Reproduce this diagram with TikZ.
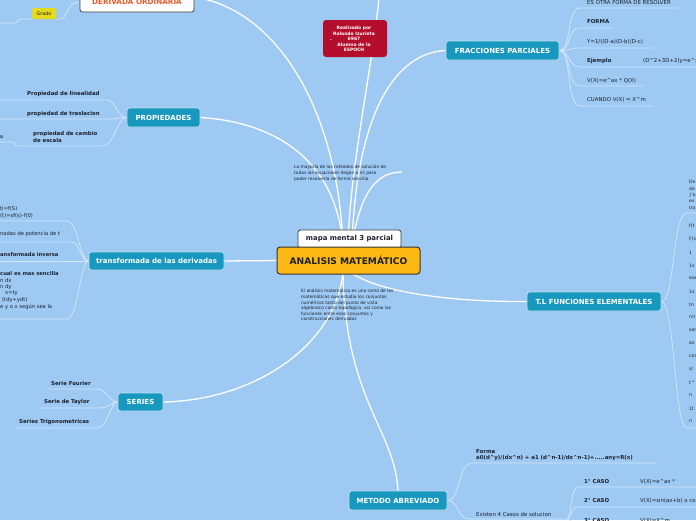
\documentclass[tikz,border=0pt]{standalone}
\usepackage{fontspec}
\setmainfont{DejaVu Sans}
\usetikzlibrary{backgrounds}
\definecolor{bgc}{RGB}{157,201,243}
\definecolor{tealbox}{RGB}{24,152,190}
\definecolor{orangebox}{RGB}{253,184,19}
\definecolor{redbox}{RGB}{180,14,44}
\definecolor{ylwbox}{RGB}{228,218,30}
\definecolor{txtc}{RGB}{28,34,46}
\definecolor{ulc}{RGB}{212,230,250}
\definecolor{derivc}{RGB}{240,88,40}
\newcommand{\fs}[2]{\fontsize{#1}{#2}\selectfont}
\newcommand{\ca}{\textasciicircum}
\begin{document}
\begin{tikzpicture}[x=1pt,y=-1pt,
  conn/.style={draw=white,line width=1.3pt},
  ulk/.style={draw=ulc,line width=0.75pt},
  tbox/.style={fill=tealbox,draw=white!70!tealbox,line width=0.8pt,rounded corners=2.5pt,text=white,font=\fs{7}{8}\bfseries,inner sep=0pt},
  lbl/.style={font=\fs{5.4}{6},text=txtc,inner sep=0pt,anchor=west},
  lblb/.style={font=\fs{5.4}{6}\bfseries,text=txtc,inner sep=0pt,anchor=west},
  para/.style={font=\fs{4.35}{5.6},text=txtc,inner sep=0pt,anchor=north west,align=left},
  tiny/.style={font=\fs{4.6}{5},text=txtc,inner sep=0pt,anchor=west}
]
\useasboundingbox (0,0) rectangle (696,520);

% ---------- main nodes ----------
\node[fill=white,draw=black!75,line width=0.8pt,rounded corners=2.5pt,minimum width=103pt,minimum height=18pt,inner sep=0pt,font=\fs{6.9}{8}\bfseries,text=txtc] (mapa) at (349.5,239) {mapa mental 3 parcial};
\node[fill=orangebox,draw=black!80,line width=1pt,rounded corners=3pt,minimum width=143pt,minimum height=27pt,inner sep=0pt,font=\fs{9.1}{10}\bfseries,text=txtc] (center) at (348.5,260.5) {ANALISIS MATEMÁTICO};

\node[fill=redbox,rounded corners=3pt,minimum width=64pt,minimum height=37pt,inner sep=0pt] (red) at (355,38.5) {};
\node[font=\fs{4.5}{5.5}\bfseries,text=white,align=center,inner sep=0pt] (redtxt) at (354,39) {Realizado por\\Rolando Izurieta\hspace{3pt}\\6967\hspace{10pt}\\Alumno de la\\ESPOCH};
\node[font=\fs{4.5}{5}\bfseries,text=white,inner sep=0pt] (reddash) at (331,41) {-};

\node[fill=white,draw=black!75,line width=0.8pt,rounded corners=2.5pt,minimum width=114pt,minimum height=20pt,inner sep=0pt,font=\fs{7.2}{8}\bfseries,text=derivc] (deriv) at (137,2) {DERIVADA ORDINARIA};
\node[fill=ylwbox,rounded corners=1.5pt,minimum width=24pt,minimum height=11pt,inner sep=0pt,font=\fs{4.8}{5},text=txtc] (grado) at (44,13.5) {Grado};

\node[tbox,minimum width=73pt,minimum height=19pt] (prop) at (163.5,117.5) {PROPIEDADES};
\node[tbox,minimum width=113pt,minimum height=19pt] (frac) at (502.5,50.5) {FRACCIONES PARCIALES};
\node[tbox,minimum width=135pt,minimum height=18pt] (trans) at (156.5,261) {transformada de las derivadas};
\node[tbox,minimum width=45pt,minimum height=18pt] (series) at (140.5,402) {SERIES};
\node[tbox,minimum width=134pt,minimum height=19pt] (tl) at (594,301.5) {T.L FUNCIONES ELEMENTALES};
\node[tbox,minimum width=98pt,minimum height=19pt] (metodo) at (398,500.5) {METODO ABREVIADO};

% ---------- free texts ----------
\node[para] (mayoria) at (294,165.2) {La mayoría de los métodos de solución de\\todas las ecuaciones llegan a Vs para\\poder resolverla de forma sencilla};
\node[para] (analisis) at (301,289.2) {El análisis matemático es una rama de las\\matemáticas que estudia los conjuntos\\numéricos tanto del punto de vista\\algebraico como topológico, así como las\\funciones entre esos conjuntos y\\construcciones derivadas};

% ---------- PROPIEDADES children ----------
\node[lblb] (p1) at (27,94) {Propiedad de linealidad};
\node[lblb] (p2) at (27,114) {propiedad de traslacion};
\node[lblb] (p3a) at (33,134) {propiedad de cambio};
\node[lblb] (p3b) at (33,140) {de escala};
\node[lbl,anchor=east] (p3c) at (3.5,137) {a};

% ---------- FRACCIONES children ----------
\node[lbl] (f1) at (587,3) {ES OTRA FORMA DE RESOLVER};
\node[lblb] (f2) at (587,22) {FORMA};
\node[lbl] (f3) at (587,42) {Y=1/((D-a)(D-b)(D-c)};
\node[lblb] (f4) at (587,61) {Ejemplo};
\node[lbl] (f4v) at (643,61) {(D\ca 2+3D+2)y=e\ca x};
\node[lbl] (f5) at (587,81) {V(X)=e\ca ax * Q(X)};
\node[lbl] (f6) at (587,100) {CUANDO V(X) = X\ca m};

% ---------- transformada children ----------
\node[lbl,font=\fs{5.2}{6}] (t1a) at (-0.5,209) {t)=f(S)};
\node[lbl,font=\fs{5.2}{6}] (t1b) at (0,215.5) {(t)=sf(s)-f(0)};
\node[lbl,font=\fs{5.2}{6}] (t2) at (0,234.5) {nadas de potencia de t};
\node[lblb,font=\fs{5.2}{6}\bfseries] (t3) at (0,255) {ansformada inversa};
\node[lblb,font=\fs{5.2}{6}\bfseries] (t4a) at (0,274) {cual es mas sencilla};
\node[lbl,font=\fs{5.2}{6}] (t4b) at (0,280.5) {n dx};
\node[lbl,font=\fs{5.2}{6}] (t4c) at (0,287) {n dy};
\node[lbl,font=\fs{5.2}{6}] (t4d) at (5,293.5) {x=ty};
\node[lbl,font=\fs{5.2}{6}] (t4e) at (2,300) {(tdy+ydt)};
\node[lbl,font=\fs{5.2}{6}] (t4f) at (0,306.5) {e y o x según sea la};

% ---------- SERIES children ----------
\node[lblb] (s1) at (51,383) {Serie Fourier};
\node[lblb] (s2) at (44,402) {Serie de Taylor};
\node[lblb] (s3) at (19,422) {Series Trigonometricas};

% ---------- T.L children ----------
\foreach \t [count=\i] in {De,de,∫'o,ex,tra}
  \node[tiny,font=\fs{4.4}{5}] (tu\i) at (689,175.5+6.5*\i) {\t};
\foreach \t [count=\i] in {f(t,F(s,1,1s,eas,1s,tn,n!/,sen,as,cos,s/,t\ca,n,1t,n}
  \node[tiny] (tl\i) at (689,213.5+13*\i) {\t};

% ---------- METODO children ----------
\node[lblb] (mf1) at (476,452) {Forma};
\node[lblb] (mf2) at (476,458) {a0(d\ca y)/(dx\ca n) + a1 (d\ca n-1)/dx\ca n-1)+.....any=R(x)};
\node[lbl] (mex) at (476,514) {Existen 4 Casos de solucion};
\node[lblb] (c1) at (584,482) {1° CASO};
\node[lbl] (c1v) at (640,482) {V(X)=e\ca ax *};
\node[lblb] (c2) at (584,501) {2° CASO};
\node[lbl] (c2v) at (640,501) {V(X)=sin(ax+b) o cos(ax+b)};
\node[lblb] (c3) at (584,520.5) {3° CASO};
\node[lbl] (c3v) at (640,520.5) {V(X)=X\ca m};

\begin{pgfonlayer}{background}
\fill[bgc] (0,0) rectangle (696,520);
\coordinate (hubT1) at (343,245);
\coordinate (hubT2) at (348,245);
\coordinate (hubT3) at (352,245);
\coordinate (hubB1) at (343,272);
\coordinate (hubB2) at (350,272);
\coordinate (topend) at (379,-1);
\coordinate (short) at (402,172);
\coordinate (dstart) at (194,-3);
% main connectors
\draw[conn] (dstart) .. controls (280,10) and (338,115) .. (hubT1);
\draw[conn] (topend) .. controls (370,80) and (350,170) .. (hubT2);
\draw[conn] (prop.east) .. controls (275,122) and (336,160) .. (hubT1);
\draw[conn] (frac.west) .. controls (392,53) and (356,120) .. (hubT3);
\draw[conn] (short) .. controls (375,172) and (360,195) .. (hubT3);
\draw[conn] (trans.east) -- (center.west);
\draw[conn] (series.east) .. controls (255,400) and (336,345) .. (hubB1);
\draw[conn] (tl.west) .. controls (440,302) and (375,290) .. (hubB2);
\draw[conn] (hubB1) .. controls (345,400) and (395,430) .. (metodo.north);
% Grado
\draw[ulk] (0,23) -- (14,23) .. controls (18,23) and (17,19) .. (22,19) -- (grado.south west);
\draw[ulk] (grado.south east) -- (60,19) .. controls (68,19) and (66,2) .. (deriv.west);
% PROPIEDADES
\draw[ulk] (prop.west) .. controls (118,117.5) and (115,100) .. (107,100) -- (0,100);
\draw[ulk] (prop.west) .. controls (118,117.5) and (116,119) .. (110,119) -- (0,119);
\draw[ulk] (prop.west) .. controls (117,117.5) and (114,146) .. (103,146) -- (18,146);
\draw[ulk] (0,142) -- (12,142) .. controls (15,142) and (15,146) .. (18,146);
% FRACCIONES
\draw[ulk] (frac.east) .. controls (572,51) and (566,8) .. (580,8) -- (678,8);
\draw[ulk] (frac.east) .. controls (572,51) and (566,28) .. (580,28) -- (612,28);
\draw[ulk] (frac.east) .. controls (570,51) and (568,48) .. (580,48) -- (653,48);
\draw[ulk] (frac.east) .. controls (570,51) and (568,67) .. (580,67) -- (697,67);
\draw[ulk] (frac.east) .. controls (572,51) and (566,86) .. (580,86) -- (643,86);
\draw[ulk] (frac.east) .. controls (572,51) and (566,106) .. (580,106) -- (653,106);
% transformada
\draw[ulk] (trans.west) .. controls (80,261) and (78,221) .. (67,221) -- (0,221);
\draw[ulk] (trans.west) .. controls (80,261) and (80,242) .. (72,242) -- (0,242);
\draw[ulk] (trans.west) -- (0,261);
\draw[ulk] (trans.west) .. controls (80,261) and (78,319) .. (67,319) -- (0,319);
% SERIES
\draw[ulk] (series.west) .. controls (110,402) and (106,389) .. (97,389) -- (47,389);
\draw[ulk] (series.west) .. controls (112,402) and (108,408) .. (100,408) -- (40,408);
\draw[ulk] (series.west) .. controls (110,402) and (108,428) .. (97,428) -- (15,428);
% T.L
\draw[ulk] (tl.east) .. controls (675,302) and (672,213) .. (687,213) -- (697,213);
\draw[ulk] (tl.east) .. controls (675,302) and (674,428) .. (687,428) -- (697,428);
% METODO
\coordinate (mfan) at (567,519);
\draw[ulk] (metodo.east) .. controls (460,501) and (458,463) .. (472,463) -- (656,463);
\draw[ulk] (metodo.east) .. controls (460,501) and (456,519) .. (470,519) -- (mfan);
\draw[ulk] (mfan) .. controls (572,519) and (570,487) .. (578,487) -- (697,487);
\draw[ulk] (mfan) .. controls (571,519) and (571,507) .. (578,507) -- (697,507);
\draw[ulk] (mfan) .. controls (572,519) and (572,526) .. (578,526) -- (697,526);
\end{pgfonlayer}
\end{tikzpicture}
\end{document}
